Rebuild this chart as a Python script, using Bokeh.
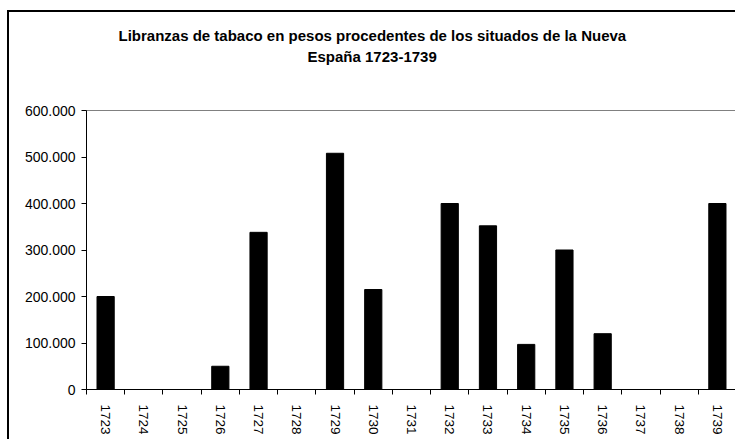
import math
from bokeh.plotting import figure
from bokeh.models import (ColumnDataSource, FixedTicker, CustomJSTickFormatter, Title, Range1d)
from bokeh.embed import file_html
from bokeh.resources import INLINE

years = ["1723", "1724", "1725", "1726", "1727", "1728", "1729", "1730", "1731",
         "1732", "1733", "1734", "1735", "1736", "1737", "1738", "1739"]
pesos = [200000, 0, 0, 50000, 338000, 0, 508000, 215000, 0,
         400000, 352000, 97000, 300000, 120000, 0, 0, 400000]
y_ticks = [0, 100000, 200000, 300000, 400000, 500000, 600000]
title_lines = ["Libranzas de tabaco en pesos procedentes de los situados de la Nueva",
               "España 1723-1739"]

FONT = "Liberation Sans"
n = len(years)
xpos = [i + 0.5 for i in range(n)]
src = ColumnDataSource(dict(x=xpos, top=pesos, year=years))

p = figure(width=728, height=429, output_backend="svg", toolbar_location=None,
           x_range=Range1d(0, n), y_range=Range1d(0, y_ticks[-1]),
           min_border_left=77, min_border_right=1, min_border_top=0,
           min_border_bottom=52)
p.title.text = ""
p.margin = (10, 0, 0, 7)
p.styles = {"border-left": "2px solid black", "border-top": "2px solid black",
            "box-sizing": "border-box"}

p.vbar(x="x", top="top", width=0.45, bottom=0, source=src,
       fill_color="black", line_color="black", line_width=1)

p.xgrid.visible = False
p.ygrid.visible = False
p.outline_line_color = "#808080"
p.outline_line_width = 1

xa = p.xaxis[0]
xa.ticker = FixedTicker(ticks=xpos, minor_ticks=list(range(n + 1)))
xa.major_label_overrides = {x: y for x, y in zip(xpos, years)}
xa.major_label_orientation = -math.pi / 2
xa.major_tick_line_color = None
xa.major_tick_out = 0
xa.major_tick_in = 0
xa.minor_tick_line_color = "black"
xa.minor_tick_out = 5
xa.minor_tick_in = 0
xa.major_label_standoff = 10
xa.axis_line_color = "black"
xa.major_label_text_font = FONT
xa.major_label_text_font_size = "13.5px"
xa.major_label_text_color = "black"

ya = p.yaxis[0]
ya.ticker = FixedTicker(ticks=y_ticks)
ya.formatter = CustomJSTickFormatter(
    code='return Math.round(tick).toString().replace(/\\B(?=(\\d{3})+(?!\\d))/g, ".");')
ya.major_tick_out = 5
ya.major_tick_in = 0
ya.minor_tick_line_color = None
ya.major_label_standoff = 6
ya.axis_line_color = "black"
ya.major_label_text_font = FONT
ya.major_label_text_font_size = "14px"
ya.major_label_text_color = "black"

# title stack, from the frame outwards
p.add_layout(Title(text=" ", text_font_size="9px", standoff=30,
                   vertical_align="top"), "above")
p.add_layout(Title(text=title_lines[1], align="left", offset=221, standoff=4,
                   vertical_align="top", text_font=FONT, text_font_style="bold",
                   text_font_size="15px", text_color="black"), "above")
p.add_layout(Title(text=title_lines[0], align="left", offset=32, standoff=0,
                   vertical_align="top", text_font=FONT, text_font_style="bold",
                   text_font_size="15px", text_color="black"), "above")
p.add_layout(Title(text=" ", text_font_size="9px", standoff=2,
                   vertical_align="top"), "above")

open("out.html", "w").write(file_html(p, INLINE))
